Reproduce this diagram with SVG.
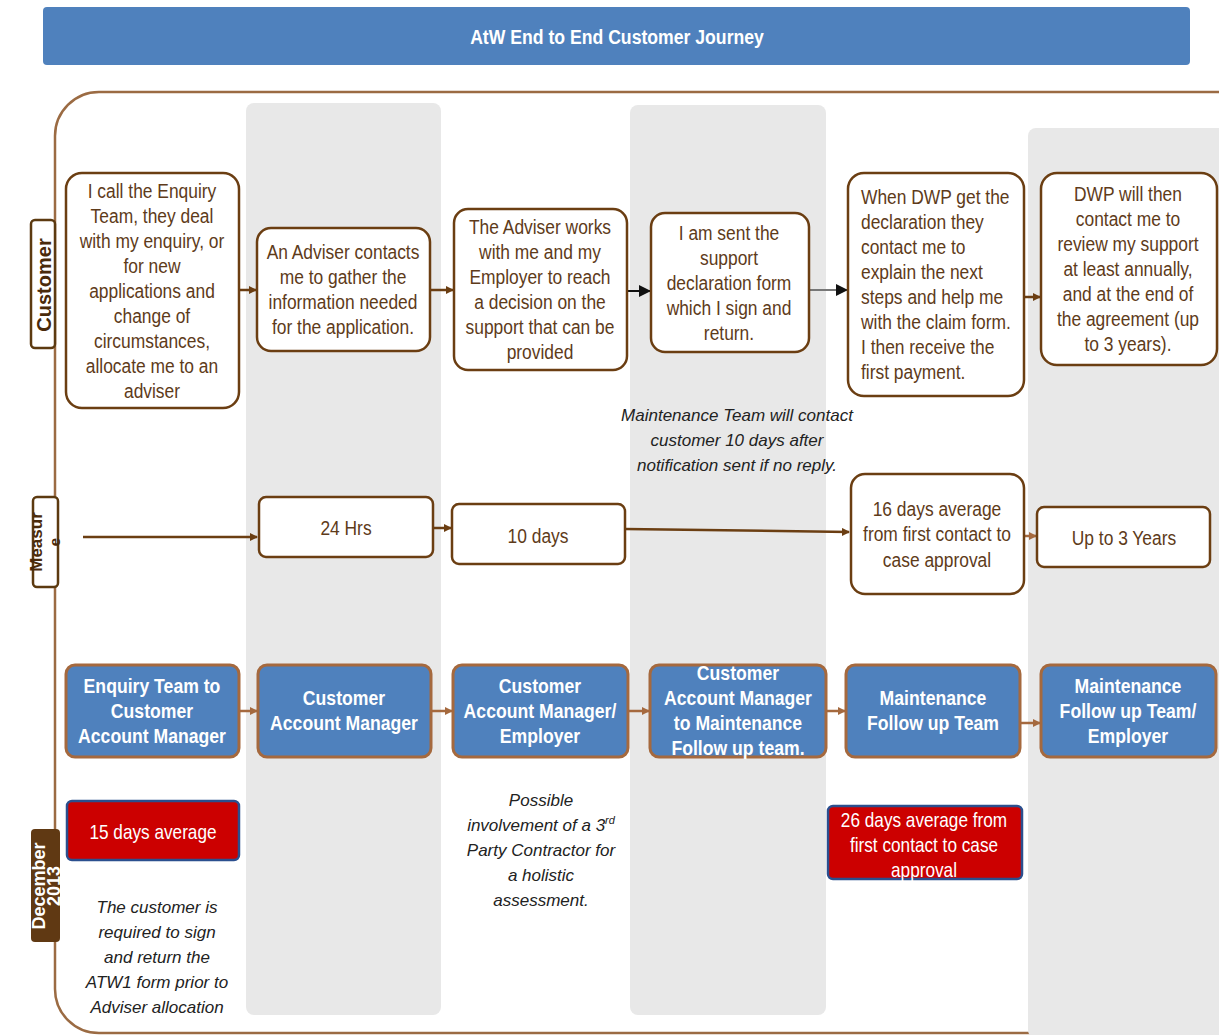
<svg xmlns="http://www.w3.org/2000/svg" width="1219" height="1035" viewBox="0 0 1219 1035">
<defs>
<style>
.n{font-family:"Liberation Sans",Arial,sans-serif;}
.cb{fill:#fff;stroke:#6B3E12;stroke-width:2.5;}
.ct{fill:#5E3B1A;font-size:20px;text-anchor:middle;}
.bb{fill:#4F81BD;stroke:#A5693E;stroke-width:3;}
.bt{fill:#fff;font-size:21px;font-weight:bold;text-anchor:middle;}
.rb{fill:#CC0000;stroke:#2B4F8E;stroke-width:2.5;}
.rt{fill:#fff;font-size:20px;text-anchor:middle;}
.it{font-family:"Liberation Sans",Arial,sans-serif;font-style:italic;font-size:17px;fill:#222;text-anchor:middle;}
.col{fill:#E8E8E8;}
.ar{stroke:#6B3E12;stroke-width:2.5;fill:none;}
.arl{stroke:#A5693E;stroke-width:2.5;fill:none;}
.lab{font-family:"Liberation Sans",Arial,sans-serif;font-weight:bold;text-anchor:middle;}
</style>
<marker id="mb" markerWidth="8" markerHeight="8" refX="7" refY="4" orient="auto" markerUnits="userSpaceOnUse"><path d="M0,0 L8,4 L0,8 Z" fill="#6B3E12"/></marker>
<marker id="ml" markerWidth="8" markerHeight="8" refX="7" refY="4" orient="auto" markerUnits="userSpaceOnUse"><path d="M0,0 L8,4 L0,8 Z" fill="#A5693E"/></marker>
<marker id="mk" markerWidth="12" markerHeight="12" refX="11" refY="6" orient="auto" markerUnits="userSpaceOnUse"><path d="M0,0 L12,6 L0,12 Z" fill="#111"/></marker>
</defs>
<rect width="1219" height="1035" fill="#fff"/>

<g id="title">
<rect x="43" y="7" width="1147" height="58" rx="4" fill="#4F81BD"/>
<text class="n" x="617" y="44" transform="matrix(0.84 0 0 1 98.72 0)" fill="#fff" font-size="21" font-weight="bold" text-anchor="middle">AtW End to End Customer Journey</text>
</g>

<g id="container">
<rect x="55" y="92" width="1210" height="941" rx="44" fill="#fff" stroke="#9B6B43" stroke-width="2.5"/>
<rect class="col" x="246" y="103" width="195" height="912" rx="8"/>
<rect class="col" x="630" y="105" width="196" height="910" rx="8"/>
<rect class="col" x="1028" y="128" width="200" height="910" rx="8"/>
</g>

<g id="lane-customer">
<rect x="31" y="220" width="24" height="128" rx="4" fill="#fff" stroke="#5C3A10" stroke-width="2.5"/>
<text class="lab" x="51" y="285" transform="rotate(-90 51 285)" font-size="20" fill="#4A2A0A">Customer</text>
</g>
<g id="lane-measure">
<rect x="33" y="497" width="25" height="90" rx="4" fill="#fff" stroke="#5C3A10" stroke-width="2.5"/>
<text class="lab" x="42" y="542" transform="rotate(-90 42 542)" font-size="17" fill="#4A2A0A">Measur</text>
<text class="lab" x="60" y="542" transform="rotate(-90 60 542)" font-size="15" fill="#4A2A0A">e</text>
</g>
<g id="lane-date">
<rect x="31" y="829" width="29" height="113" rx="4" fill="#603913"/>
<text class="lab" transform="rotate(-90 0 0)" font-size="18" fill="#fff"><tspan x="-886" y="45">December</tspan><tspan x="-886" y="60">2013</tspan></text>
</g>

<g id="connectors">
<line class="ar" x1="239" y1="290" x2="256" y2="290" marker-end="url(#mb)"/>
<line class="ar" x1="430" y1="290" x2="453" y2="290" marker-end="url(#mb)"/>
<line x1="627" y1="291" x2="650" y2="291" stroke="#111" stroke-width="2" marker-end="url(#mk)"/>
<line x1="809" y1="290" x2="847" y2="290" stroke="#777" stroke-width="2" marker-end="url(#mk)"/>
<line class="ar" x1="1024" y1="297" x2="1040" y2="297" marker-end="url(#mb)"/>
<line class="ar" x1="83" y1="537" x2="257" y2="537" marker-end="url(#mb)"/>
<line class="ar" x1="433" y1="528" x2="451" y2="528" marker-end="url(#mb)"/>
<line class="ar" x1="625" y1="529" x2="849" y2="532" marker-end="url(#mb)"/>
<line class="arl" x1="1024" y1="536" x2="1036" y2="536" marker-end="url(#ml)"/>
<line class="arl" x1="239" y1="711" x2="257" y2="711" marker-end="url(#ml)"/>
<line class="arl" x1="431" y1="711" x2="452" y2="711" marker-end="url(#ml)"/>
<line class="arl" x1="628" y1="711" x2="649" y2="711" marker-end="url(#ml)"/>
<line class="arl" x1="826" y1="711" x2="845" y2="711" marker-end="url(#ml)"/>
<line class="arl" x1="1020" y1="723" x2="1040" y2="723" marker-end="url(#ml)"/>
</g>

<g id="c1">
<rect class="cb" x="66" y="173" width="173" height="235" rx="16"/>
<text class="n ct" transform="matrix(0.87 0 0 1 19.76 0)"><tspan x="152" y="198">I call the Enquiry</tspan><tspan x="152" y="223">Team, they deal</tspan><tspan x="152" y="248">with my enquiry, or</tspan><tspan x="152" y="273">for new</tspan><tspan x="152" y="298">applications and</tspan><tspan x="152" y="323">change of</tspan><tspan x="152" y="348">circumstances,</tspan><tspan x="152" y="373">allocate me to an</tspan><tspan x="152" y="398">adviser</tspan></text>
</g>
<g id="c2">
<rect class="cb" x="257" y="228" width="173" height="123" rx="14"/>
<text class="n ct" transform="matrix(0.87 0 0 1 44.59 0)"><tspan x="343" y="259">An Adviser contacts</tspan><tspan x="343" y="284">me to gather the</tspan><tspan x="343" y="309">information needed</tspan><tspan x="343" y="334">for the application.</tspan></text>
</g>
<g id="c3">
<rect class="cb" x="454" y="209" width="173" height="161" rx="14"/>
<text class="n ct" transform="matrix(0.87 0 0 1 70.2 0)"><tspan x="540" y="234">The Adviser works</tspan><tspan x="540" y="259">with me and my</tspan><tspan x="540" y="284">Employer to reach</tspan><tspan x="540" y="309">a decision on the</tspan><tspan x="540" y="334">support that can be</tspan><tspan x="540" y="359">provided</tspan></text>
</g>
<g id="c4">
<rect class="cb" x="651" y="213" width="158" height="139" rx="14"/>
<text class="n ct" transform="matrix(0.87 0 0 1 94.77 0)"><tspan x="729" y="240">I am sent the</tspan><tspan x="729" y="265">support</tspan><tspan x="729" y="290">declaration form</tspan><tspan x="729" y="315">which I sign and</tspan><tspan x="729" y="340">return.</tspan></text>
</g>
<g id="c5">
<rect class="cb" x="848" y="173" width="176" height="223" rx="16"/>
<text class="n ct" style="text-anchor:start" transform="matrix(0.87 0 0 1 111.93 0)"><tspan x="861" y="204">When DWP get the</tspan><tspan x="861" y="229">declaration they</tspan><tspan x="861" y="254">contact me to</tspan><tspan x="861" y="279">explain the next</tspan><tspan x="861" y="304">steps and help me</tspan><tspan x="861" y="329">with the claim form.</tspan><tspan x="861" y="354">I then receive the</tspan><tspan x="861" y="379">first payment.</tspan></text>
</g>
<g id="c6">
<rect class="cb" x="1041" y="173" width="176" height="192" rx="16"/>
<text class="n ct" transform="matrix(0.87 0 0 1 146.64 0)"><tspan x="1128" y="201">DWP will then</tspan><tspan x="1128" y="226">contact me to</tspan><tspan x="1128" y="251">review my support</tspan><tspan x="1128" y="276">at least annually,</tspan><tspan x="1128" y="301">and at the end of</tspan><tspan x="1128" y="326">the agreement (up</tspan><tspan x="1128" y="351">to 3 years).</tspan></text>
</g>

<g id="note-maint">
<text class="it"><tspan x="737" y="421">Maintenance Team will contact</tspan><tspan x="737" y="446">customer 10 days after</tspan><tspan x="737" y="471">notification sent if no reply.</tspan></text>
</g>

<g id="m1">
<rect class="cb" x="259" y="497" width="174" height="60" rx="7"/>
<text class="n ct" x="346" y="535" transform="matrix(0.87 0 0 1 44.98 0)">24 Hrs</text>
</g>
<g id="m2">
<rect class="cb" x="452" y="504" width="173" height="60" rx="7"/>
<text class="n ct" x="538" y="543" transform="matrix(0.87 0 0 1 69.94 0)">10 days</text>
</g>
<g id="m3">
<rect class="cb" x="851" y="474" width="173" height="120" rx="14"/>
<text class="n ct" transform="matrix(0.87 0 0 1 121.81 0)"><tspan x="937" y="516">16 days average</tspan><tspan x="937" y="541">from first contact to</tspan><tspan x="937" y="567">case approval</tspan></text>
</g>
<g id="m4">
<rect class="cb" x="1037" y="507" width="173" height="60" rx="7"/>
<text class="n ct" x="1124" y="545" transform="matrix(0.87 0 0 1 146.12 0)">Up to 3 Years</text>
</g>

<g id="t1">
<rect class="bb" x="66" y="665" width="173" height="92" rx="9"/>
<text class="n bt" transform="matrix(0.84 0 0 1 24.32 0)"><tspan x="152" y="693">Enquiry Team to</tspan><tspan x="152" y="718">Customer</tspan><tspan x="152" y="743">Account Manager</tspan></text>
</g>
<g id="t2">
<rect class="bb" x="258" y="665" width="173" height="92" rx="9"/>
<text class="n bt" transform="matrix(0.84 0 0 1 55.04 0)"><tspan x="344" y="705">Customer</tspan><tspan x="344" y="730">Account Manager</tspan></text>
</g>
<g id="t3">
<rect class="bb" x="453" y="665" width="175" height="92" rx="9"/>
<text class="n bt" transform="matrix(0.84 0 0 1 86.4 0)"><tspan x="540" y="693">Customer</tspan><tspan x="540" y="718">Account Manager/</tspan><tspan x="540" y="743">Employer</tspan></text>
</g>
<g id="t4">
<rect class="bb" x="650" y="665" width="176" height="92" rx="9"/>
<text class="n bt" transform="matrix(0.84 0 0 1 118.08 0)"><tspan x="738" y="680">Customer</tspan><tspan x="738" y="705">Account Manager</tspan><tspan x="738" y="730">to Maintenance</tspan><tspan x="738" y="755">Follow up team.</tspan></text>
</g>
<g id="t5">
<rect class="bb" x="846" y="665" width="174" height="92" rx="9"/>
<text class="n bt" transform="matrix(0.84 0 0 1 149.28 0)"><tspan x="933" y="705">Maintenance</tspan><tspan x="933" y="730">Follow up Team</tspan></text>
</g>
<g id="t6">
<rect class="bb" x="1041" y="665" width="175" height="92" rx="9"/>
<text class="n bt" transform="matrix(0.84 0 0 1 180.48 0)"><tspan x="1128" y="693">Maintenance</tspan><tspan x="1128" y="718">Follow up Team/</tspan><tspan x="1128" y="743">Employer</tspan></text>
</g>

<g id="r1">
<rect class="rb" x="67" y="801" width="172" height="59" rx="5"/>
<text class="n rt" x="153" y="839" transform="matrix(0.86 0 0 1 21.42 0)">15 days average</text>
</g>
<g id="r2">
<rect class="rb" x="828" y="806" width="194" height="73" rx="5"/>
<text class="n rt" transform="matrix(0.86 0 0 1 129.36 0)"><tspan x="924" y="827">26 days average from</tspan><tspan x="924" y="852">first contact to case</tspan><tspan x="924" y="877">approval</tspan></text>
</g>

<g id="note-third">
<text class="it"><tspan x="541" y="806">Possible</tspan><tspan x="541" y="831">involvement of a 3<tspan font-size="11" dy="-7">rd</tspan></tspan><tspan x="541" y="856">Party Contractor for</tspan><tspan x="541" y="881">a holistic</tspan><tspan x="541" y="906">assessment.</tspan></text>
</g>
<g id="note-atw1">
<text class="it"><tspan x="157" y="913">The customer is</tspan><tspan x="157" y="938">required to sign</tspan><tspan x="157" y="963">and return the</tspan><tspan x="157" y="988">ATW1 form prior to</tspan><tspan x="157" y="1013">Adviser allocation</tspan></text>
</g>
</svg>
